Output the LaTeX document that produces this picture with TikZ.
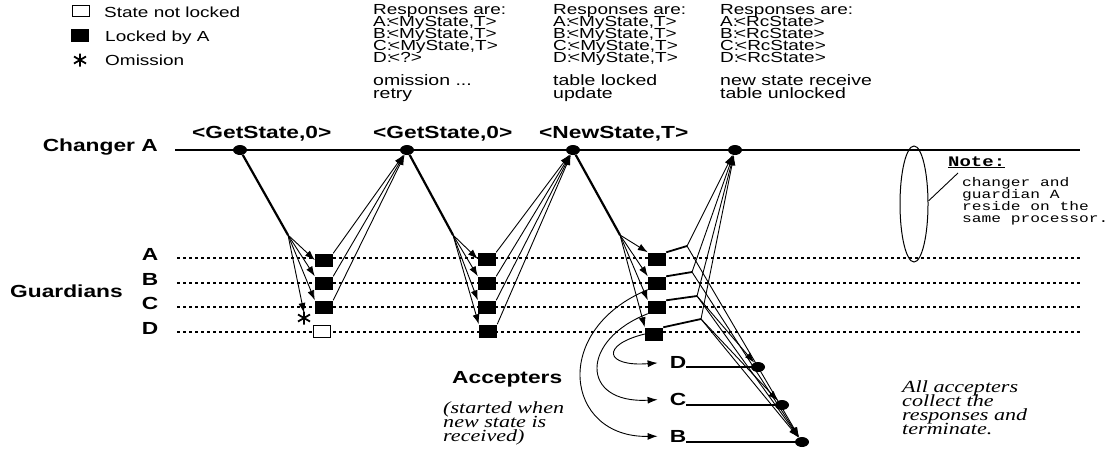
\documentclass[tikz,border=0pt]{standalone}
\usepackage{fontspec}
\setmainfont{Liberation Sans}[FakeStretch=1.3]
\newfontfamily\serifit{Liberation Serif}[FakeStretch=1.3]
\newfontfamily\monof{Liberation Mono}[FakeStretch=1.3]
\usetikzlibrary{arrows.meta,shapes.geometric}
\lineskiplimit=-100pt
\newcommand\txreg{\fontsize{14.6}{12}\selectfont}
\newcommand\txregb{\fontsize{15}{13.5}\selectfont}
\newcommand\txbold{\fontsize{17.5}{20}\selectfont\bfseries}
\newcommand\txital{\serifit\itshape\fontsize{17}{14.2}\selectfont}
\newcommand\txmono{\monof\fontsize{12.5}{12}\selectfont}
\newcommand\txmonob{\monof\bfseries\fontsize{14.6}{14}\selectfont}
\newcommand\ck{:\kern-3pt<}
\begin{document}
\begin{tikzpicture}[x=1pt,y=-1pt,
  dot/.style={ellipse,fill,minimum width=14pt,minimum height=10pt,inner sep=0pt},
  lk/.style={rectangle,fill,minimum width=18pt,minimum height=13pt,inner sep=0pt},
  ul/.style={rectangle,draw,fill=white,line width=0.9pt,minimum width=17pt,minimum height=12pt,inner sep=0pt},
  thin/.style={line width=0.9pt,-{Latex[length=10pt,width=7pt]}},
  fork/.style={line width=2.2pt},
  kink/.style={line width=1.8pt},
  gline/.style={line width=1.8pt,dash pattern=on 3pt off 3pt},
  txt/.style={anchor=base west,inner sep=0pt,font=\txreg},
  btxt/.style={anchor=base west,inner sep=0pt,font=\txbold},
  resp/.style={anchor=north west,inner sep=0pt,align=left,font=\txreg},
  stat/.style={anchor=north west,inner sep=0pt,align=left,font=\txregb},
  itx/.style={anchor=north west,inner sep=0pt,align=left,font=\txital},
  ast/.pic={\draw[line width=1.8pt] (0,-6.5)--(0,6.5) (-6,-3.5)--(6,3.5) (-6,3.5)--(6,-3.5);}
]
\useasboundingbox (0,0) rectangle (1111,453);
% legend
\node[ul,minimum height=11pt] (lgu) at (81,11) {};
\node[txt] (lgut) at (104,17) {State not locked};
\node[lk] (lgl) at (80,35) {};
\node[txt] (lglt) at (105,41) {Locked by A};
\pic at (80,60) {ast};
\node[txt] (lgot) at (105,65) {Omission};
% responses
\node[resp] (r1) at (373,4) {Responses are:\\A\ck MyState,T>\\B\ck MyState,T>\\C\ck MyState,T>\\D\ck ?>};
\node[resp] (r2) at (553,4) {Responses are:\\A\ck MyState,T>\\B\ck MyState,T>\\C\ck MyState,T>\\D\ck MyState,T>};
\node[resp] (r3) at (720,4) {Responses are:\\A\ck RcState>\\B\ck RcState>\\C\ck RcState>\\D\ck RcState>};
\node[stat] (t1) at (373,74) {omission ...\\retry};
\node[stat] (t2) at (553,74) {table locked\\update};
\node[stat] (t3) at (720,74) {new state receive\\table unlocked};
% changer
\coordinate (chL) at (175,150);
\coordinate (chR) at (1080,150);
\draw[line width=1.6pt] (chL) -- (chR);
\node[btxt,anchor=base east] (chn) at (158,151) {Changer A};
\node[btxt] (m1) at (192,138) {<GetState,0>};
\node[btxt] (m2) at (373,138) {<GetState,0>};
\node[btxt] (m3) at (539,138) {<NewState,T>};
% guardians
\foreach \n/\y in {A/258,B/283,C/307,D/332} {
  \coordinate (g\n L) at (177,\y);
  \coordinate (g\n R) at (1080,\y);
  \draw[gline] (g\n L) -- (g\n R);
  \node[btxt,anchor=base] (gl\n) at (150,\y+2) {\n};
}
\node[btxt] (gdn) at (10,297) {Guardians};
% dots on changer
\node[dot] (c1) at (240,150) {};
\node[dot] (c2) at (407,150) {};
\node[dot] (c3) at (573,150) {};
\node[dot] (c4) at (735,150) {};
% column 1
\coordinate (f1) at (288,235);
\node[lk] (s1a) at (324,260) {};
\node[lk] (s1b) at (324,283) {};
\node[lk] (s1c) at (324,307) {};
\node[ul] (s1d) at (322,331) {};
\pic at (304,318) {ast};
\coordinate (om) at (304,313);
\draw[fork] (c1) -- (f1);
\draw[thin] (f1) -- (s1a.west);
\draw[thin] (f1) -- (s1b.north west);
\draw[thin] (f1) -- (s1c.north west);
\draw[thin] (f1) -- (om);
\foreach \s in {s1a,s1b,s1c} \draw[thin] (\s.north east) -- (c2);
% column 2
\coordinate (f2) at (453,235);
\node[lk] (s2a) at (487,259) {};
\node[lk] (s2b) at (487,283) {};
\node[lk] (s2c) at (487,307) {};
\node[lk] (s2d) at (488,331) {};
\draw[fork] (c2) -- (f2);
\draw[thin] (f2) -- (s2a.west);
\foreach \s in {s2b,s2c,s2d} \draw[thin] (f2) -- (\s.north west);
\foreach \s in {s2a,s2b,s2c,s2d} \draw[thin] (\s.north east) -- (c3);
% column 3
\coordinate (f3) at (620,235);
\node[lk] (s3a) at (657,259) {};
\node[lk] (s3b) at (657,283) {};
\node[lk] (s3c) at (657,307) {};
\node[lk] (s3d) at (654,334) {};
\draw[fork] (c3) -- (f3);
\foreach \s in {s3a,s3b,s3c,s3d} \draw[thin] (f3) -- (\s.north west);
\coordinate (k1) at (687,246);
\coordinate (k2) at (692,272);
\coordinate (k3) at (697,296);
\coordinate (k4) at (701,319);
\draw[kink] (s3a.north east) -- (k1);
\draw[kink] (s3b.north east) -- (k2);
\draw[kink] (s3c.north east) -- (k3);
\draw[kink] (s3d.north east) -- (k4);
% accepters
\node[btxt,anchor=base] (lD) at (678,368) {D};
\node[btxt,anchor=base] (lC) at (678,405) {C};
\node[btxt,anchor=base] (lB) at (678,442) {B};
\node[dot] (aD) at (758,367) {};
\node[dot] (aC) at (782,405) {};
\node[dot] (aB) at (802,442) {};
\draw[line width=1.5pt] (lD.east |- aD) -- (aD);
\draw[line width=1.5pt] (lC.east |- aC) -- (aC);
\draw[line width=1.5pt] (lB.east |- aB) -- (aB);
\foreach \k in {k1,k2,k3,k4} {
  \draw[thin] (\k) -- (c4);
  \draw[thin] (\k) -- (aB);
}
\draw[thin] (k4) -- (aC);
\draw[thin] (k3) -- (aD);
\draw[thin,shorten >=12pt] (s3b.south west) .. controls (550,330) and (565,438) .. (lB.west);
\draw[thin,shorten >=12pt] (s3c.south west) .. controls (580,340) and (580,404) .. (lC.west);
\draw[thin,shorten >=12pt] (s3d.west) .. controls (600,345) and (605,367) .. (lD.west);
\node[btxt] (acc) at (452,383) {Accepters};
\node[itx] (accn) at (443,401) {(started when\\new state is\\received)};
\node[itx] (alln) at (902,380) {All accepters\\collect the\\responses and\\terminate.};
% note
\node[ellipse,draw,line width=1pt,minimum width=28pt,minimum height=116pt,inner sep=0pt] (nel) at (914,204) {};
\node[anchor=base west,inner sep=0pt,font=\txmonob] (nnote) at (948,166) {\underline{Note:}};
\node[anchor=north west,inner sep=0pt,align=left,font=\txmono] (ntext) at (962,177) {changer and\\guardian A\\reside on the\\same processor.};
\coordinate (ntip) at (958,173);
\draw[line width=0.9pt] (nel.12) -- (ntip);
\end{tikzpicture}
\end{document}
